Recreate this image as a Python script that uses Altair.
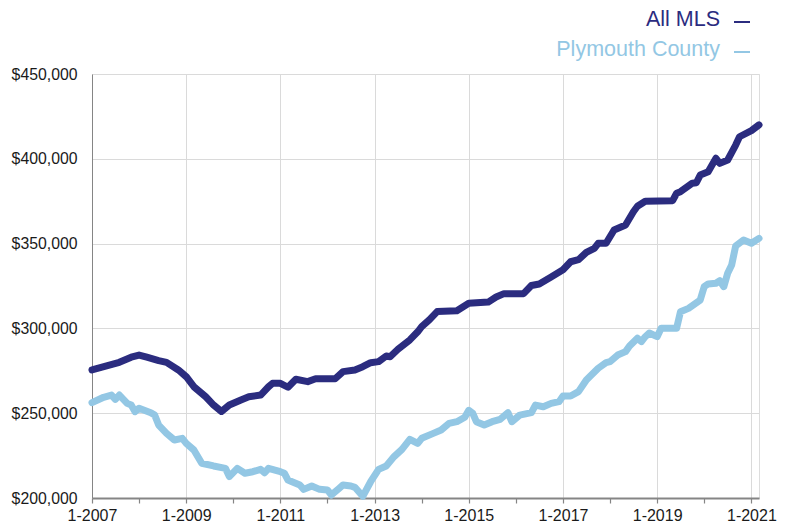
import altair as alt
import pandas as pd

# Months since January 2007 and median prices
mls_months = [0, 4, 7, 10, 12, 14, 17, 19, 22, 24, 26, 29, 31, 33, 35, 38, 40, 43, 45, 46,
              48, 50, 52, 55, 57, 62, 64, 67, 69, 71, 73, 75, 76, 78, 81, 83, 84, 86, 88, 93,
              96, 101, 103, 105, 110, 112, 114, 117, 120, 122, 124, 126, 128, 129, 131, 133,
              136, 138, 139, 141, 148, 149, 150, 153, 154, 155, 157, 159, 160, 162, 164, 165,
              168, 170]
mls_values = [275500, 278000, 280000, 283000, 284300, 283000, 281000, 280000, 275500, 271500,
              265600, 259700, 254800, 251000, 254800, 257800, 259700, 260700, 265600, 267600,
              267600, 265300, 270000, 268600, 270300, 270300, 274500, 275500, 277400, 279800,
              280400, 283700, 283300, 287700, 293200, 298000, 301000, 305000, 309900, 310400,
              314800, 315500, 318500, 320500, 320500, 325300, 326200, 330300, 334600, 339300,
              340500, 344800, 347200, 350200, 350200, 358000, 361000, 368800, 372000, 375000,
              375300, 379700, 380600, 385600, 385900, 390400, 392400, 400300, 397300, 399300,
              408100, 413000, 416600, 420000]

ply_months = [0, 3, 5, 6, 7, 9, 10, 11, 12, 15, 16, 17, 19, 21, 23, 24, 26, 28, 31, 34,
              35, 37, 39, 41, 43, 44, 45, 48, 49, 50, 51, 53, 54, 56, 58, 60, 61, 63, 64, 66,
              67, 69, 71, 73, 75, 77, 79, 81, 83, 84, 87, 89, 91, 93, 95, 96, 97, 98, 100, 102,
              104, 106, 107, 109, 112, 113, 115, 117, 119, 120, 122, 124, 126, 127, 129, 131,
              132, 134, 136, 137, 139, 140, 141, 142, 144, 145, 149, 150, 152, 155, 156, 157,
              159, 160, 161, 162, 163, 164, 166, 168, 170]
ply_values = [256200, 259400, 260700, 258200, 260700, 255800, 254800, 250900, 252900, 250300,
              248900, 243000, 238100, 234200, 235200, 232200, 228300, 220500, 218900, 217500,
              212600, 217500, 214600, 215500, 216900, 214900, 217500, 215500, 214600, 210600,
              209600, 207700, 205100, 207100, 205100, 204700, 201800, 205700, 207700, 207100,
              206300, 201000, 209600, 216900, 218900, 224400, 228700, 234600, 232200, 235200,
              238100, 240100, 244000, 245000, 247600, 251700, 249900, 245000, 243000, 245000,
              246400, 250300, 245000, 248900, 250300, 254800, 253800, 255800, 256800, 260100,
              260100, 262700, 269600, 271900, 276500, 279800, 280400, 284300, 286300, 289600,
              294200, 292200, 295100, 297300, 295100, 300100, 300100, 309800, 311800, 316700,
              324600, 326200, 326600, 328100, 324600, 332500, 337400, 348600, 352100, 350200,
              353100]

series_names = ["All MLS", "Plymouth County"]
series_colors = ["#2b2c7f", "#93c7e4"]
y_ticks = [200000, 250000, 300000, 350000, 400000, 450000]
x_years = list(range(2007, 2022))


def to_date(m):
    d = pd.Timestamp(2007, 1, 1) + pd.DateOffset(months=m)
    return d.strftime("%Y/%m/%d")


df = pd.concat([
    pd.DataFrame({"date": [to_date(m) for m in mls_months], "value": mls_values,
                  "series": series_names[0]}),
    pd.DataFrame({"date": [to_date(m) for m in ply_months], "value": ply_values,
                  "series": series_names[1]}),
])

FONT = "Liberation Sans"

x_enc = alt.X(
    "date:T",
    scale=alt.Scale(domain=[alt.DateTime(year=2007, month=1, date=1),
                            alt.DateTime(year=2021, month=3, date=1)]),
    axis=alt.Axis(
        values=[alt.DateTime(year=y, month=1, date=1) for y in x_years],
        labelExpr="year(datum.value) % 2 == 0 ? '' : timeFormat(datum.value, '%-m-%Y')",
        title=None,
        grid=True,
        gridColor={"condition": {"test": "year(datum.value) % 2 == 0", "value": "transparent"},
                   "value": "#dadada"},
        gridWidth=1,
        domainColor="#858585",
        domainWidth=2,
        tickColor="#858585",
        tickSize=5,
        tickWidth=1.2,
        labelPadding=4,
        labelFlush=False,
        labelOverlap=False,
        labelFont=FONT,
        labelFontSize=16,
        labelColor="#1a1a1a",
    ),
)

y_enc = alt.Y(
    "value:Q",
    scale=alt.Scale(domain=[200000, 450000], nice=False, zero=False),
    axis=alt.Axis(
        values=y_ticks,
        format="$,.0f",
        title=None,
        grid=True,
        gridColor="#dadada",
        gridWidth=1,
        domainColor="#858585",
        domainWidth=1,
        ticks=False,
        labelPadding=15,
        labelFlush=False,
        labelFont=FONT,
        labelFontSize=15.8,
        labelColor="#1a1a1a",
    ),
)

lines = alt.Chart(df).mark_line(strokeWidth=7, strokeJoin="round", strokeCap="round", clip=False).encode(
    x=x_enc,
    y=y_enc,
    color=alt.Color("series:N", scale=alt.Scale(domain=series_names, range=series_colors), legend=None),
    order=alt.Order("date:T"),
)

legend_layers = []
legend_y = [-54, -24]
for name, col, ly in zip(series_names, series_colors, legend_y):
    ldf = pd.DataFrame({"label": [name]})
    legend_layers.append(
        alt.Chart(ldf).mark_text(align="right", baseline="middle", font=FONT, fontSize=21.5, color=col).encode(
            text="label:N", x=alt.value(628), y=alt.value(ly)
        )
    )
    legend_layers.append(
        alt.Chart(ldf).mark_rule(color=col, strokeWidth=2).encode(
            x=alt.value(642), x2=alt.value(658), y=alt.value(ly + 2)
        )
    )

chart = alt.layer(lines, *legend_layers).properties(
    width=667,
    height=424,
    autosize=alt.AutoSizeParams(type="none"),
    padding={"left": 84, "top": 66, "right": 24, "bottom": 28},
).configure_view(stroke="#858585", strokeWidth=1).configure(background="white")

chart.save("out.html", embed_options={"renderer": "svg", "actions": False})
